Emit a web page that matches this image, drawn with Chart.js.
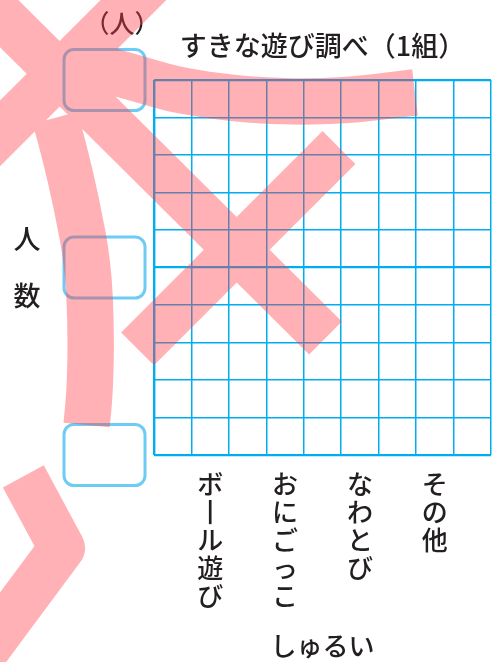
<!DOCTYPE html>
<html lang="ja">
<head>
<meta charset="utf-8">
<title>すきな遊び調べ（1組）</title>
<script src="https://cdn.jsdelivr.net/npm/chart.js@4"></script>
<style>
  html, body { margin: 0; padding: 0; background: #fff; }
  #wrap { position: relative; width: 493px; height: 662px; }
</style>
</head>
<body>
<div id="wrap"><canvas id="chart"></canvas></div>
<script>
// --- 1. Data ---
const chartTitle = 'すきな遊び調べ（1組）';
const categories = ['ボール遊び', 'おにごっこ', 'なわとび', 'その他'];
const counts = [null, null, null, null];   // blank worksheet, nothing filled in yet
const yMin = 0;
const yMax = 10;
const boxedTicks = [0, 5, 10];             // empty boxes for the scale numbers
const unitLabel = '（人）';
const yTitle = ['人', '数'];
const xTitle = 'しゅるい';

// one empty column before, between and after every category -> 9 columns
const slotLabels = [''];
const slotCounts = [null];
categories.forEach((c, i) => {
    slotLabels.push(c, '');
    slotCounts.push(counts[i], null);
});

// --- 2. Look ---
const FONT = '"Noto Sans CJK JP", "Noto Sans", sans-serif';
const TEXT = '#231f20';
const GRID = '#00aeef';
const BOX = 'rgb(110, 204, 244)';
const INK = 'rgba(255, 60, 70, 0.4)';

// pink strike-through marks, in grid units (columns from the left edge, rows from the bottom)
const strikes = [
    { pts: [[-4.65, 12.28], [4.58, 3.12]] },
    { pts: [[-0.11, 12.57], [-4.65, 8.04]] },
    { pts: [[-0.44, 2.83], [4.94, 8.2]] },
    { pts: [[-1.84, 10.43], [-0.99, 10.19], [-0.21, 9.97], [0.69, 9.71], [2.56, 9.45], [4.83, 9.41], [6.97, 9.67]], smooth: true },
    { pts: [[-2.64, 8.99], [-2.4, 8.13], [-2.06, 6.67], [-1.76, 5.07], [-1.68, 3.33], [-1.71, 1.73], [-1.8, 0.8]], smooth: true },
    { pts: [[-3.49, -0.57], [-2.46, -2.48], [-4.78, -5.6]] }
];
const strikeWidth = 1.24; // in columns

// --- 3. Worksheet extras: scale boxes, unit, vertical y title, strike marks ---
const worksheetPlugin = {
    id: 'worksheet',
    afterDraw(chart) {
        const { ctx, chartArea: area } = chart;
        const xs = chart.scales.x;
        const ys = chart.scales.y;
        ctx.save();

        // empty boxes next to 0, 5 and 10
        ctx.strokeStyle = BOX;
        ctx.lineWidth = 3;
        boxedTicks.forEach(v => {
            const cy = ys.getPixelForValue(v);
            ctx.beginPath();
            ctx.roundRect(area.left - 90, cy - 30.5, 81, 61, 10);
            ctx.stroke();
        });

        ctx.fillStyle = TEXT;
        ctx.textAlign = 'center';
        ctx.textBaseline = 'middle';
        ctx.font = '500 25px ' + FONT;
        ctx.fillText(unitLabel, area.left - 32, area.top - 57);

        ctx.font = '500 27px ' + FONT;
        const mid = ys.getPixelForValue((yMin + yMax) / 2);
        yTitle.forEach((ch, i) => {
            ctx.fillText(ch, area.left - 127, mid + (i - (yTitle.length - 1) / 2) * 57);
        });

        // strike marks, one stroke call so overlaps do not darken
        const gx = u => xs.getPixelForValue(u - 0.5);
        const gy = v => ys.getPixelForValue(v);
        ctx.beginPath();
        strikes.forEach(s => {
            const p = s.pts.map(([u, v]) => [gx(u), gy(v)]);
            ctx.moveTo(p[0][0], p[0][1]);
            if (s.smooth) {
                for (let i = 1; i < p.length - 1; i++) {
                    const mx = (p[i][0] + p[i + 1][0]) / 2;
                    const my = (p[i][1] + p[i + 1][1]) / 2;
                    ctx.quadraticCurveTo(p[i][0], p[i][1], mx, my);
                }
                ctx.lineTo(p[p.length - 1][0], p[p.length - 1][1]);
            } else {
                for (let i = 1; i < p.length; i++) ctx.lineTo(p[i][0], p[i][1]);
            }
        });
        ctx.lineWidth = strikeWidth * (gx(1) - gx(0));
        ctx.lineCap = 'butt';
        ctx.lineJoin = 'round';
        ctx.strokeStyle = INK;
        ctx.stroke();
        ctx.restore();
    }
};

// --- 4. Chart ---
const ctx = document.getElementById('chart').getContext('2d');
new Chart(ctx, {
    type: 'bar',
    data: {
        labels: slotLabels,
        datasets: [{ label: '人数', data: slotCounts, backgroundColor: GRID }]
    },
    plugins: [worksheetPlugin],
    options: {
        responsive: true,
        maintainAspectRatio: false,
        animation: false,
        layout: { padding: { left: 154, right: 2, top: 0, bottom: 0 } },
        plugins: {
            legend: { display: false },
            tooltip: { enabled: false },
            title: {
                display: true,
                text: chartTitle,
                color: TEXT,
                font: { family: FONT, size: 27, weight: '500', lineHeight: 1.2 },
                padding: { top: 30, bottom: 17.6 }
            }
        },
        scales: {
            x: {
                afterFit: s => { s.height = 207; },
                border: { display: false },
                grid: {
                    offset: true,
                    drawTicks: false,
                    color: GRID,
                    lineWidth: c => (c.index === 0 || c.index === slotLabels.length) ? 2.4 : 1.5
                },
                ticks: {
                    autoSkip: false,
                    maxRotation: 0,
                    padding: 15,
                    color: TEXT,
                    font: { family: FONT, size: 26, weight: '500', lineHeight: 1.08 },
                    callback: function (value) {
                        const s = this.getLabelForValue(value);
                        return s ? Array.from(s).map(ch => ch === 'ー' ? '丨' : ch) : '';
                    }
                },
                title: {
                    display: true,
                    text: xTitle,
                    color: TEXT,
                    font: { family: FONT, size: 26, weight: '500', lineHeight: 1.2 },
                    padding: { top: 0, bottom: 0 }
                }
            },
            y: {
                min: yMin,
                max: yMax,
                afterFit: s => { s.width = 0; },
                border: { display: false },
                grid: {
                    drawTicks: false,
                    color: GRID,
                    lineWidth: c => (c.tick && c.tick.value % 5 === 0) ? 2.2 : 1.5
                },
                ticks: { display: false, stepSize: 1 }
            }
        }
    }
});
</script>
</body>
</html>
